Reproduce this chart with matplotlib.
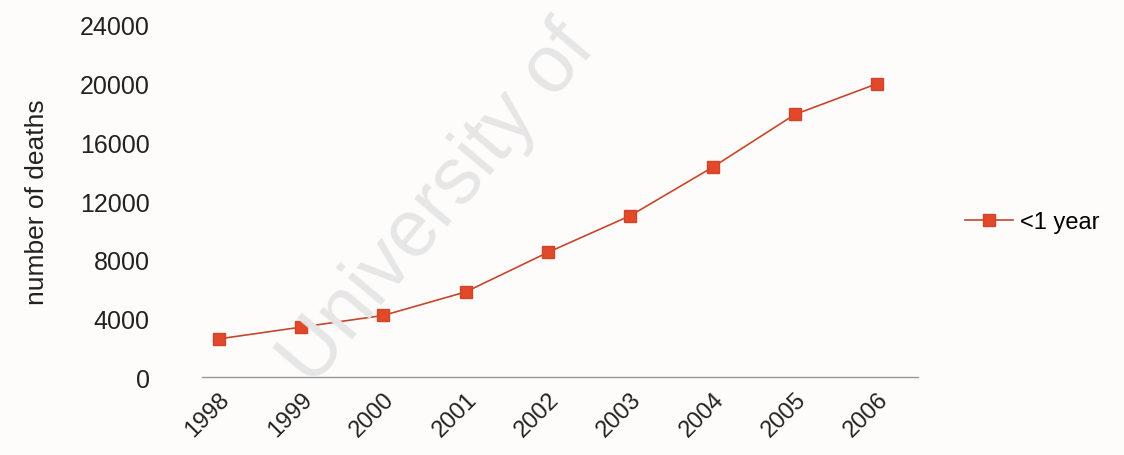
import matplotlib.pyplot as plt
from matplotlib.transforms import ScaledTranslation

# data
years = ['1998', '1999', '2000', '2001', '2002', '2003', '2004', '2005', '2006']
deaths = [2600, 3400, 4200, 5800, 8500, 11000, 14300, 17900, 20000]
yticks = [0, 4000, 8000, 12000, 16000, 20000, 24000]

plt.rcParams['font.family'] = ['Liberation Sans', 'DejaVu Sans']

fig = plt.figure(figsize=(11.24, 4.56), dpi=100)
fig.patch.set_facecolor('#fefcfb')
ax = fig.add_axes([0.158, 0.171, 0.659, 0.772])
ax.set_facecolor('none')

# faint watermark across the plot
fig.text(0.39, 0.55, 'University of', fontsize=58, color='#e6e6e6',
         rotation=50, ha='center', va='center', zorder=0)

x = [int(y) for y in years]
line, = ax.plot(x, deaths, color='#c8452b', linewidth=1.2,
                marker='s', markersize=8, markerfacecolor='#e04a2a',
                markeredgecolor='#d2442a', label='<1 year')

ax.set_xlim(1997.5, 2006.5)
ax.set_ylim(0, 24000)
ax.set_yticks(yticks)
ax.set_yticklabels([str(v) for v in yticks], fontsize=18, color='#222222')
ax.set_xticks(x)
ax.set_xticklabels(years, fontsize=17, color='#222222', rotation=45,
                   ha='right', rotation_mode='anchor')
shift = ScaledTranslation(-0.14, 0, fig.dpi_scale_trans)
for lab in ax.get_xticklabels():
    lab.set_transform(lab.get_transform() + shift)
ax.tick_params(axis='y', length=0, pad=20)
ax.tick_params(axis='x', length=0, pad=8)
ax.set_ylabel('number of deaths', fontsize=19, color='#222222', labelpad=22)

for s in ['top', 'right', 'left']:
    ax.spines[s].set_visible(False)
ax.spines['bottom'].set_color('#999999')
ax.spines['bottom'].set_linewidth(1.0)
ax.spines['bottom'].set_bounds(1997.8, 2006.5)

fig.legend(handles=[line], loc='center left', bbox_to_anchor=(0.84, 0.51),
           frameon=False, fontsize=17, handlelength=2.0, handletextpad=0.3)

fig.savefig('out.png', dpi=100, facecolor=fig.get_facecolor())
